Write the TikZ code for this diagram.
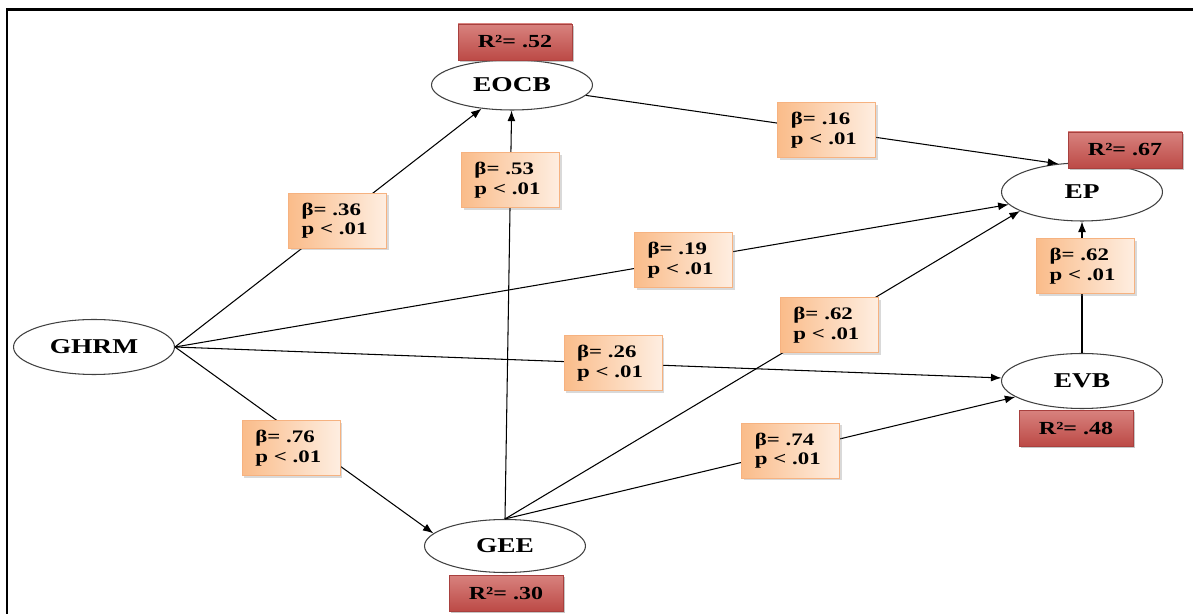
\documentclass[tikz,border=0pt]{standalone}
\usepackage{fontspec}
\setmainfont{Liberation Serif}[FakeStretch=1.3]
\usetikzlibrary{shapes.geometric,shadows,arrows.meta}

\definecolor{peachL}{RGB}{250,188,138}
\definecolor{peachR}{RGB}{254,238,225}
\definecolor{peachEdge}{RGB}{246,178,128}
\definecolor{rsqTop}{RGB}{216,130,126}
\definecolor{rsqBot}{RGB}{188,74,70}
\definecolor{rsqEdge}{RGB}{168,64,62}

\begin{document}
\begin{tikzpicture}[x=0.02cm,y=-0.02cm,>={Latex[length=6pt,width=4.5pt]},
    latent/.style={shape=ellipse,draw=black!75,line width=0.6pt,fill=white,minimum width=3.22cm,minimum height=1.1cm,inner sep=0pt,font=\fontsize{12}{13}\selectfont\bfseries},
    coef/.style={shape=rectangle,draw=peachEdge,left color=peachL,right color=peachR,align=left,text width=1.44cm,minimum height=1.1cm,inner xsep=0.26cm,font=\fontsize{10}{11.3}\selectfont\bfseries,drop shadow={shadow xshift=1.2pt,shadow yshift=-1.2pt,opacity=0.3}},
    rsq/.style={shape=rectangle,draw=rsqEdge,top color=rsqTop,bottom color=rsqBot,minimum width=2.28cm,minimum height=0.72cm,font=\fontsize{10.5}{12}\selectfont\bfseries,drop shadow={shadow xshift=1.2pt,shadow yshift=-1.2pt,opacity=0.45}},
    link/.style={line width=0.6pt}]
            \useasboundingbox (0,0) rectangle (1193,614);
            \draw[line width=1.7pt] (1193,10) -- (7,10) -- (7,614);

            \node[latent,minimum height=1cm] (EOCB) at (512,85) {EOCB};
            \node[latent,minimum height=1.16cm] (EP) at (1082,192) {EP};
            \node[latent] (GHRM) at (94,347) {GHRM};
            \node[latent] (EVB) at (1082,381) {EVB};
            \node[latent,minimum height=1.06cm] (GEE) at (505,546) {GEE};

            \path [->,link] (GHRM.east) edge node[coef,pos=0.53] (c36) {β= .36\\p < .01} (EOCB);
            \path [->,link] (GEE.north) edge node[coef,pos=0.83] (c53) {β= .53\\p < .01} (EOCB);
            \path [->,link] (EOCB.-8) edge node[coef,pos=0.51] (c16) {β= .16\\p < .01} (EP.130);
            \path [->,link] (GHRM.east) edge node[coef,pos=0.61] (c19) {β= .19\\p < .01} (EP);
            \path [->,link] (EVB.north) edge node[coef,pos=0.66,xshift=2pt] (c62a) {β= .62\\p < .01} (EP.south);
            \path [->,link] (GEE.north) edge node[coef,pos=0.63] (c62b) {β= .62\\p < .01} (EP.197);
            \path [->,link] (GHRM.east) edge node[coef,pos=0.53] (c26) {β= .26\\p < .01} (EVB);
            \path [->,link] (GHRM.east) edge node[coef,pos=0.45,yshift=-10pt] (c76) {β= .76\\p < .01} (GEE.170);
            \path [->,link] (GEE.north) edge node[coef,pos=0.56] (c74) {β= .74\\p < .01} (EVB);

            \node[rsq] (rEOCB) at (515,42) {R²= .52};
            \node[rsq] (rEP) at (1125,150) {R²= .67};
            \node[rsq] (rEVB) at (1076,428) {R²= .48};
            \node[rsq] (rGEE) at (506,593) {R²= .30};
        \end{tikzpicture}
\end{document}
